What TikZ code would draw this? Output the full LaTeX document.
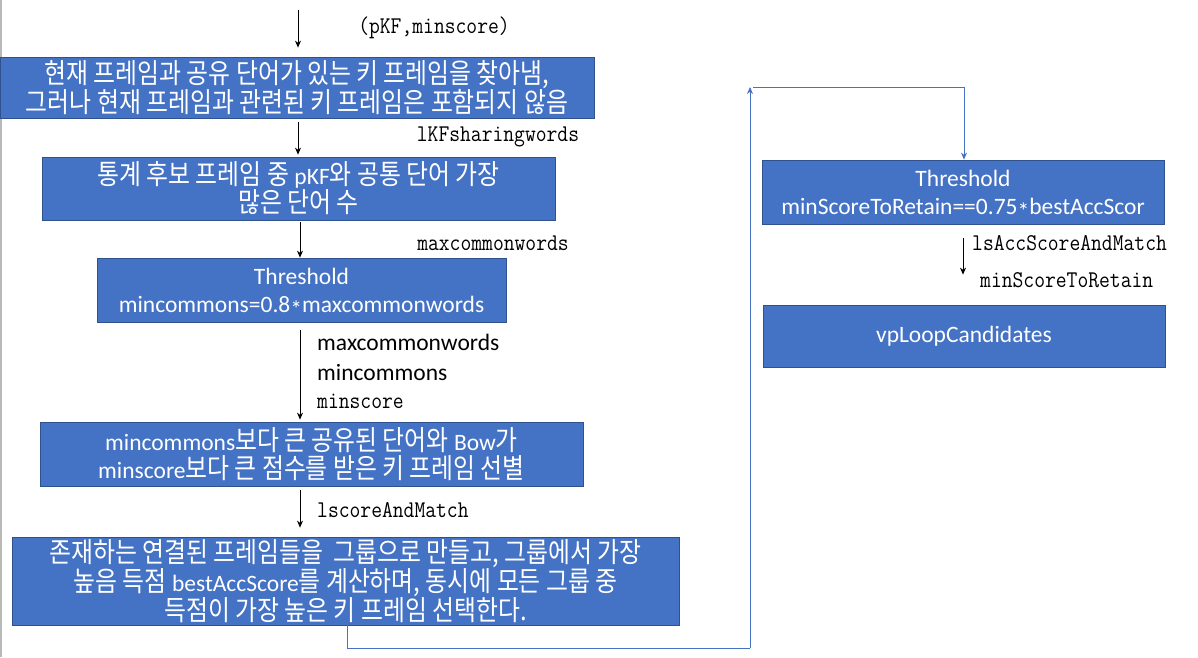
\documentclass[tikz,border=0pt]{standalone}
\usepackage{fontspec}
\setmainfont{Carlito}
\newfontfamily\krfont[FakeStretch=0.86,Scale=1.18]{Noto Sans CJK KR}
\newfontfamily\lblmono[FakeStretch=0.875]{Latin Modern Mono}
\newcommand{\kor}[1]{{\krfont #1}}
\newcommand{\midstar}{\raisebox{-0.22em}[0pt][0pt]{*}}
\usetikzlibrary{arrows.meta}
\definecolor{boxblue}{HTML}{4472C4}
\definecolor{boxedge}{HTML}{2F528F}
\definecolor{linkblue}{HTML}{4472C4}
\tikzset{
  flowbox/.style={rectangle, fill=boxblue, draw=boxedge, line width=0.8pt, text=white,
    inner sep=0pt, align=center, font=\fontsize{23.5}{28}\selectfont},
  arr/.style={draw=black, line width=0.8pt, -{Stealth[length=7pt,width=6pt]}},
  bluearr/.style={draw=linkblue, line width=0.9pt, -{Stealth[length=7pt,width=6pt]}},
  monolbl/.style={inner sep=0pt, font=\fontsize{24}{26}\lblmono},
  sanslbl/.style={inner sep=0pt, font=\fontsize{23.5}{26}\selectfont}
}
\begin{document}
\begin{tikzpicture}[x=1pt,y=-1pt]
\useasboundingbox (0,0) rectangle (1198,657);
\fill[white] (0,0) rectangle (1198,657);
\draw[gray!55, line width=1.5pt] (0.75,0) -- (0.75,657);

% boxes
\node[flowbox, minimum width=594pt, minimum height=61pt] (b1) at (297,87.5)
  {\kor{현재 프레임과 공유 단어가 있는 키 프레임을 찾아냄,}\\
   \kor{그러나 현재 프레임과 관련된 키 프레임은 포함되지 않음}};
\node[flowbox, minimum width=513pt, minimum height=63pt] (b2) at (298.5,188.5)
  {\kor{통계 후보 프레임 중 }pKF\kor{와 공통 단어 가장}\\
   \kor{많은 단어 수}};
\node[flowbox, minimum width=409pt, minimum height=64pt] (b3) at (301.5,290)
  {Threshold\\ mincommons=0.8\midstar maxcommonwords};
\node[flowbox, minimum width=543pt, minimum height=64pt] (b4) at (311.5,454)
  {mincommons\kor{보다 큰 공유된 단어와 }Bow\kor{가}\\
   minscore\kor{보다 큰 점수를 받은 키 프레임 선별}};
\node[flowbox, minimum width=667pt, minimum height=88pt] (b5) at (345.5,581)
  {\kor{존재하는 연결된 프레임들을 \ 그룹으로 만들고, 그룹에서 가장}\\
   \kor{높음 득점 }bestAccScore\kor{를 계산하며, 동시에 모든 그룹 중}\\
   \kor{득점이 가장 높은 키 프레임 선택한다.}};
\node[flowbox, minimum width=402pt, minimum height=64pt] (b6) at (963,192)
  {Threshold\\ minScoreToRetain==0.75\midstar bestAccScor};
\node[flowbox, minimum width=402pt, minimum height=62pt] (b7) at (964,336)
  {vpLoopCandidates};

% black arrows
\coordinate (start) at (298,10);
\coordinate (ax) at (300,0);
\coordinate (rx) at (963,0);
\draw[arr, shorten >=9pt] (start) -- (start |- b1.north);
\draw[arr, shorten <=4pt, shorten >=2pt] (b1.south -| start) -- (b2.north -| start);
\draw[arr, shorten <=2pt] (b2.south -| ax) -- (b3.north -| ax);
\draw[arr, shorten <=8pt, shorten >=2pt] (b3.south -| ax) -- (b4.north -| ax);
\draw[arr, shorten <=4pt, shorten >=9pt] (b4.south -| ax) -- (b5.north -| ax);
\draw[arr, shorten <=14pt, shorten >=30pt] (b6.south -| rx) -- (b7.north -| rx);

% blue loop connector
\coordinate (c1) at (347,648);
\coordinate (c2) at (750,648);
\coordinate (c3) at (750,87);
\coordinate (c4) at (753,87);
\coordinate (c5) at (964,87);
\draw[linkblue, line width=0.9pt] (c1 |- b5.south) -- (c1) -- (c2);
\draw[bluearr] (c2) -- (c3);
\draw[bluearr] (c4) -- (c5) -- (c5 |- b6.north);

% labels
\node[monolbl] (l1) at (434,28) {(pKF,minscore)};
\node[monolbl] (l2) at (498,137) {lKFsharingwords};
\node[monolbl] (l3) at (493,243) {maxcommonwords};
\node[sanslbl, anchor=west] (l4) at (317,342) {maxcommonwords};
\node[sanslbl, anchor=west] (l5) at (317,372) {mincommons};
\node[monolbl, anchor=west] (l6) at (317,401) {minscore};
\node[monolbl, anchor=west] (l7) at (317,510) {lscoreAndMatch};
\node[monolbl, anchor=west] (l8) at (972,243) {lsAccScoreAndMatch};
\node[monolbl, anchor=west] (l9) at (980,280) {minScoreToRetain};
\end{tikzpicture}
\end{document}
